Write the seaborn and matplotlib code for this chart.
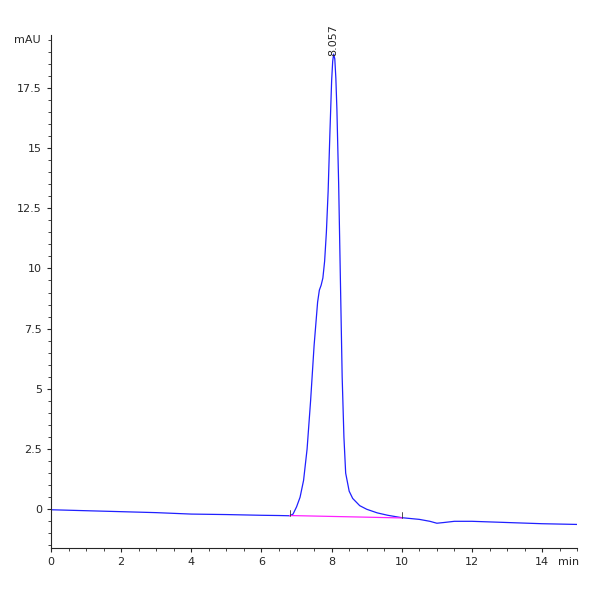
import numpy as np
import pandas as pd
import matplotlib
matplotlib.use("Agg")
import matplotlib.pyplot as plt
import seaborn as sns
from matplotlib.ticker import MultipleLocator

# chromatogram trace
time_min = [0, 1, 2, 3, 4, 5, 6, 6.5, 6.8, 6.9, 7.0, 7.1, 7.2, 7.3, 7.4, 7.5, 7.6, 7.65,
            7.7, 7.75, 7.8, 7.85, 7.9, 7.95, 8.0, 8.03, 8.057, 8.09, 8.12, 8.15, 8.2,
            8.25, 8.3, 8.35, 8.4, 8.5, 8.6, 8.8, 9.0, 9.3, 9.6, 10.0, 10.5, 10.8, 11.0,
            11.2, 11.5, 12, 13, 14, 15]
signal = [-0.02, -0.06, -0.1, -0.14, -0.2, -0.22, -0.25, -0.26, -0.27, -0.2, 0.1, 0.5,
          1.2, 2.5, 4.5, 6.8, 8.6, 9.1, 9.3, 9.6, 10.3, 11.5, 13.2, 15.6, 17.8, 18.6,
          18.9, 18.7, 17.9, 16.6, 13.5, 9.5, 5.5, 3.0, 1.5, 0.75, 0.45, 0.15, 0.0, -0.15,
          -0.25, -0.35, -0.42, -0.5, -0.58, -0.55, -0.5, -0.5, -0.55, -0.6, -0.63]
baseline_t = [6.8, 10.0]
baseline_v = [-0.26, -0.36]
peak_rt = 8.057

df = pd.DataFrame({"t": time_min, "v": signal})

sns.set_style("ticks")
fig, ax = plt.subplots(figsize=(6, 6), dpi=100)
fig.subplots_adjust(left=0.085, right=0.962, bottom=0.087, top=0.942)

sns.lineplot(data=df, x="t", y="v", ax=ax, color="#2020ff", linewidth=0.9)
sns.lineplot(x=baseline_t, y=baseline_v, ax=ax, color="#ff20ff", linewidth=0.9)
for bt, bv in zip(baseline_t, baseline_v):
    ax.plot([bt, bt], [bv, bv + 0.25], color="#333333", linewidth=0.6)

ax.text(peak_rt, 18.8, f"{peak_rt:.3f}", rotation=90, ha="center", va="bottom", fontsize=8)

ax.set_xlim(0, 15)
ax.set_ylim(-1.6, 19.7)
ax.xaxis.set_major_locator(MultipleLocator(2))
ax.xaxis.set_minor_locator(MultipleLocator(0.5))
ax.yaxis.set_minor_locator(MultipleLocator(0.5))
ax.set_yticks([0, 2.5, 5, 7.5, 10, 12.5, 15, 17.5])
ax.set_yticklabels(["0", "2.5", "5", "7.5", "10", "12.5", "15", "17.5"])
ax.tick_params(labelsize=8, length=3)
ax.tick_params(which="minor", length=2)
ax.set_xlabel("")
ax.set_ylabel("")
ax.text(-0.3, 19.5, "mAU", ha="right", va="center", fontsize=8)
ax.text(15.05, -2.0, "min", ha="right", va="top", fontsize=8)
sns.despine(ax=ax)

fig.savefig("out.png", dpi=100)
